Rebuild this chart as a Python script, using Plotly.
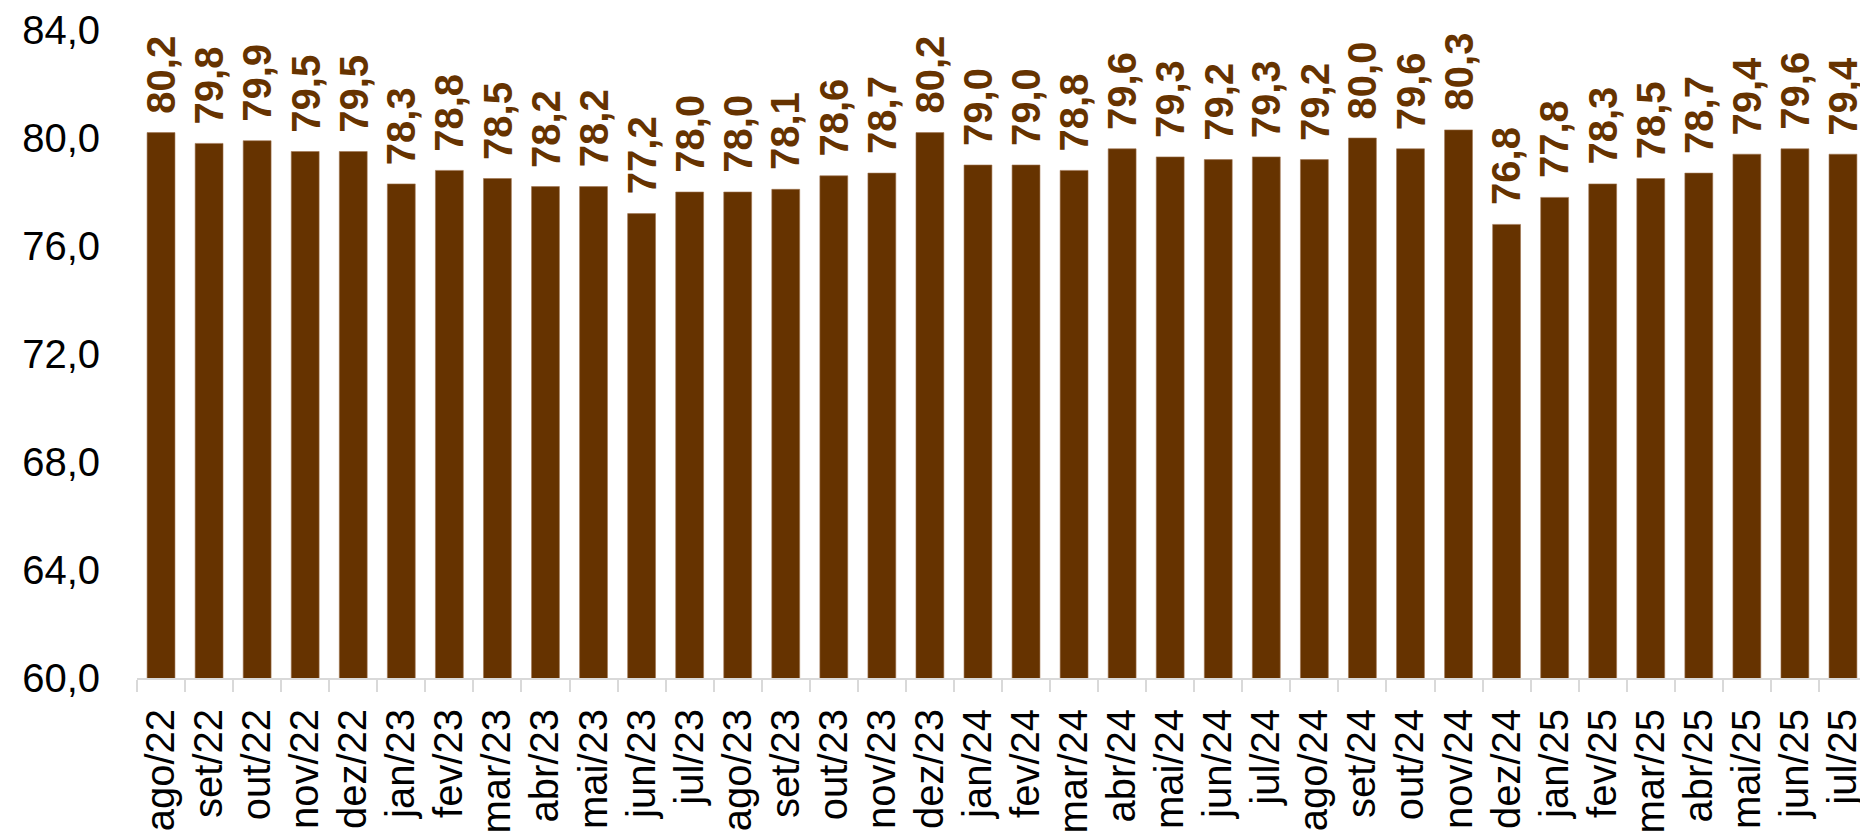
import plotly.graph_objects as go

# Dados
MESES = ['ago/22', 'set/22', 'out/22', 'nov/22', 'dez/22', 'jan/23', 'fev/23', 'mar/23',
         'abr/23', 'mai/23', 'jun/23', 'jul/23', 'ago/23', 'set/23', 'out/23', 'nov/23',
         'dez/23', 'jan/24', 'fev/24', 'mar/24', 'abr/24', 'mai/24', 'jun/24', 'jul/24',
         'ago/24', 'set/24', 'out/24', 'nov/24', 'dez/24', 'jan/25', 'fev/25', 'mar/25',
         'abr/25', 'mai/25', 'jun/25', 'jul/25']
VALORES = [80.2, 79.8, 79.9, 79.5, 79.5, 78.3, 78.8, 78.5,
           78.2, 78.2, 77.2, 78.0, 78.0, 78.1, 78.6, 78.7,
           80.2, 79.0, 79.0, 78.8, 79.6, 79.3, 79.2, 79.3,
           79.2, 80.0, 79.6, 80.3, 76.8, 77.8, 78.3, 78.5,
           78.7, 79.4, 79.6, 79.4]
Y_TICKS = [60, 64, 68, 72, 76, 80, 84]

COR = '#663300'
FONTE = 'Liberation Sans, Arial, sans-serif'

fig = go.Figure()

fig.add_trace(go.Bar(
    x=MESES,
    y=VALORES,
    marker=dict(color=COR, line=dict(color='#a0744f', width=0.6)),
    hoverinfo='x+y',
))

# rótulos de dados rotacionados acima das barras
for mes, val in zip(MESES, VALORES):
    fig.add_annotation(
        x=mes, y=val,
        text=f'{val:.1f}'.replace('.', ','),
        textangle=-90,
        showarrow=False,
        xanchor='center', yanchor='bottom',
        yshift=17,
        font=dict(family=FONTE, size=40, color=COR, weight='bold'),
    )

# a página tem 8px de margem no body, por isso a figura é um pouco menor
fig.update_layout(
    width=1860,
    height=827,
    margin=dict(l=129, r=1, t=22, b=157),
    plot_bgcolor='white',
    paper_bgcolor='white',
    separators=',.',
    bargap=0.42,
    showlegend=False,
    font=dict(family=FONTE, size=40, color='black'),
)

fig.update_xaxes(
    type='category',
    tickangle=-90,
    tickson='boundaries',
    ticks='outside',
    ticklen=12,
    tickwidth=2,
    tickcolor='#d9d9d9',
    showline=True,
    linecolor='#d9d9d9',
    linewidth=2,
    showgrid=False,
    tickfont=dict(size=40),
    ticklabelstandoff=13,
    automargin=False,
)

fig.update_yaxes(
    range=[60, 84],
    tickvals=Y_TICKS,
    tickformat='.1f',
    showgrid=False,
    zeroline=False,
    showline=False,
    ticks='',
    tickfont=dict(size=40),
    ticklabelstandoff=36,
    automargin=False,
)

fig.write_html('out.html')
